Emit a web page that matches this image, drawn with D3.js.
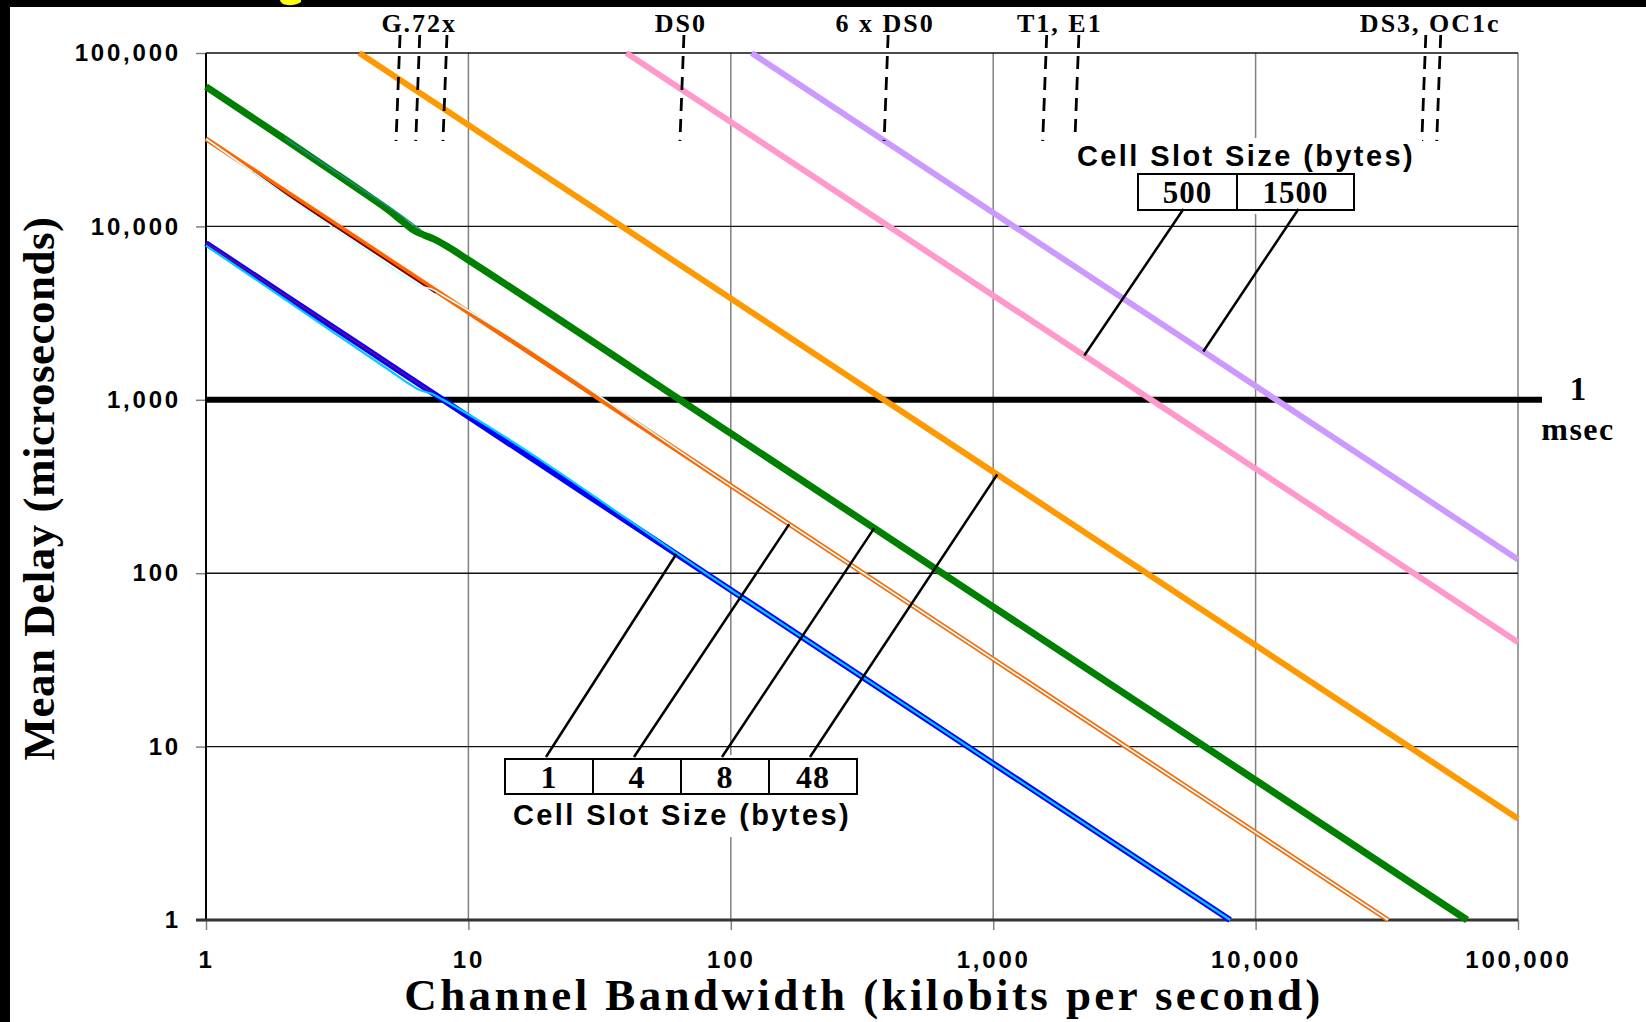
<!DOCTYPE html>
<html>
<head>
<meta charset="utf-8">
<script src="https://cdn.jsdelivr.net/npm/d3@7"></script>
<style>
  body { margin: 0; background: #fff; }
  svg { display: block; }
  .tick text { font-family: "Liberation Sans", Arial, sans-serif; font-weight: bold; font-size: 24px; letter-spacing: 2.8px; fill: #000; }
  .tick line { stroke: #808080; stroke-width: 1.5; }
  .serif { font-family: "Liberation Serif", "Times New Roman", serif; font-weight: bold; fill: #000; }
  .sans { font-family: "Liberation Sans", Arial, sans-serif; font-weight: bold; fill: #000; }
</style>
</head>
<body>
<div id="vis"></div>
<script>
// Frame
const FRAME_WIDTH = 1646;
const FRAME_HEIGHT = 1022;
const MARGINS = {left: 206, right: 128, top: 53, bottom: 102};
const VIS_WIDTH = FRAME_WIDTH - MARGINS.left - MARGINS.right;
const VIS_HEIGHT = FRAME_HEIGHT - MARGINS.top - MARGINS.bottom;

// tick values
const X_TICKS = [1, 10, 100, 1000, 10000, 100000];
const Y_TICKS = [1, 10, 100, 1000, 10000, 100000];

// cell slot size = 1 byte
const BLUE_BW = [1, 2, 4, 8, 100, 1000, 8000];
const BLUE_DELAY = [8000, 4000, 2000, 1000, 80, 8, 1];
const PURPLE_BW = [1, 2, 4, 8];
const PURPLE_DELAY = [8050, 4020, 2010, 1000];
const CYAN_BW = [1, 2, 3, 4, 5, 6, 6.6, 7.3, 8, 100, 1000, 8000];
const CYAN_DELAY = [7750, 3800, 2500, 1860, 1480, 1225, 1130, 1080, 1000, 80, 8, 1];

// cell slot size = 4 bytes
const ORANGE_BW = [1, 2, 4, 8, 100, 1000, 32000];
const ORANGE_DELAY = [32000, 16000, 8000, 4000, 320, 32, 1];
const MAROON_BW = [1.5, 2, 4, 6, 7.5];
const MAROON_DELAY = [20700, 15500, 7760, 5170, 4140];
const PALE_BW = [1, 1.4, 2, 4, 6, 6.6, 7.3, 8, 100, 1000, 32000];
const PALE_DELAY = [32000, 22300, 15200, 7450, 4900, 4520, 4330, 4000, 320, 32, 1];

// cell slot size = 8 bytes
const GREEN_BW = [1, 2, 3, 4, 5, 5.6, 6.2, 6.8, 7.4, 8.5, 10, 100, 1000, 10000, 64000];
const GREEN_DELAY = [64000, 31800, 21000, 15600, 12300, 10700, 9500, 8900, 8450, 7500, 6400, 640, 64, 6.4, 1];
const TEAL_BW = [2, 3, 4, 5, 6, 6.6];
const TEAL_DELAY = [32300, 21500, 16100, 12900, 10600, 9500];

// cell slot sizes 48, 500, 1500 bytes
const C48_BW = [3.84, 10, 100, 1000, 10000, 100000];
const C48_DELAY = [100000, 38400, 3840, 384, 38.4, 3.84];
const C500_BW = [40, 100, 1000, 10000, 100000];
const C500_DELAY = [100000, 40000, 4000, 400, 40];
const C1500_BW = [120, 1000, 10000, 100000];
const C1500_DELAY = [100000, 12000, 1200, 120];

// legends and leader targets
const SMALL_CELLS = ["1", "4", "8", "48"];
const SMALL_LEADER_BW = [62, 167, 352, 1036];
const SMALL_LEADER_DELAY = [129, 192, 182, 371];
const BIG_CELLS = ["500", "1500"];
const BIG_LEADER_BW = [2224, 6320];
const BIG_LEADER_DELAY = [1800, 1900];

// channel annotations along the top
const MARK_LABELS = ["G.72x", "DS0", "6 x DS0", "T1, E1", "DS3, OC1c"];
const MARK_BW = [[5.3, 6.3, 8], [64], [384], [1544, 2048], [43000, 49000]];

const MSEC_LIMIT = 1000;

// Create the frame
const FRAME = d3.select("#vis")
                .append("svg")
                  .attr("width", FRAME_WIDTH)
                  .attr("height", FRAME_HEIGHT);

FRAME.append("rect")
      .attr("width", FRAME_WIDTH)
      .attr("height", FRAME_HEIGHT)
      .attr("fill", "#fff");

// slide border (black band on top and left)
FRAME.append("rect").attr("x", 0).attr("y", 0).attr("width", FRAME_WIDTH).attr("height", 7).attr("fill", "#000");
FRAME.append("rect").attr("x", 0).attr("y", 0).attr("width", 10).attr("height", FRAME_HEIGHT).attr("fill", "#000");
// tail of a glyph of the slide title, cut off at the top
FRAME.append("path")
      .attr("d", "M280,0 C281,6 293,7 301,2 L301,0 Z")
      .attr("fill", "#ffff00");

// Scales
const X_SCALE = d3.scaleLog()
                  .domain([1, 100000])
                  .range([MARGINS.left, MARGINS.left + VIS_WIDTH]);
const Y_SCALE = d3.scaleLog()
                  .domain([1, 100000])
                  .range([MARGINS.top + VIS_HEIGHT, MARGINS.top]);

// gridlines
FRAME.append("g").selectAll("line")
      .data(X_TICKS.slice(1))
      .enter()
      .append("line")
        .attr("x1", d => X_SCALE(d)).attr("x2", d => X_SCALE(d))
        .attr("y1", Y_SCALE(100000)).attr("y2", Y_SCALE(1))
        .attr("stroke", "#808080")
        .attr("stroke-width", 1.5);

FRAME.append("g").selectAll("line")
      .data(Y_TICKS.slice(1))
      .enter()
      .append("line")
        .attr("x1", X_SCALE(1)).attr("x2", X_SCALE(100000))
        .attr("y1", d => Y_SCALE(d)).attr("y2", d => Y_SCALE(d))
        .attr("stroke", "#111")
        .attr("stroke-width", 1.4);

// axes
FRAME.append("g")
      .attr("transform", "translate(" + MARGINS.left + ",0)")
      .call(d3.axisLeft(Y_SCALE).tickValues(Y_TICKS).tickFormat(d3.format(",")).tickSize(10).tickPadding(15))
      .call(g => g.select(".domain").remove());

FRAME.append("g")
      .attr("transform", "translate(0," + (MARGINS.top + VIS_HEIGHT) + ")")
      .call(d3.axisBottom(X_SCALE).tickValues(X_TICKS).tickFormat(d3.format(",")).tickSize(10).tickPadding(21))
      .call(g => g.select(".domain").remove());

// left and bottom border
FRAME.append("line")
      .attr("x1", X_SCALE(1)).attr("x2", X_SCALE(1))
      .attr("y1", Y_SCALE(100000)).attr("y2", Y_SCALE(1))
      .attr("stroke", "#000").attr("stroke-width", 2);
FRAME.append("line")
      .attr("x1", X_SCALE(1) - 10).attr("x2", X_SCALE(100000))
      .attr("y1", Y_SCALE(1)).attr("y2", Y_SCALE(1))
      .attr("stroke", "#333").attr("stroke-width", 3);

// axis titles
FRAME.append("text")
      .attr("class", "serif")
      .attr("x", MARGINS.left + VIS_WIDTH / 2 + 2)
      .attr("y", 1010)
      .attr("text-anchor", "middle")
      .attr("font-size", 45)
      .attr("letter-spacing", 3.4)
      .text("Channel Bandwidth (kilobits per second)");

FRAME.append("text")
      .attr("class", "serif")
      .attr("transform", "translate(54," + (MARGINS.top + VIS_HEIGHT / 2 + 2) + ") rotate(-90)")
      .attr("text-anchor", "middle")
      .attr("font-size", 45)
      .attr("letter-spacing", 0.5)
      .text("Mean Delay (microseconds)");

// 1 msec line
FRAME.append("line")
      .attr("x1", X_SCALE(1) + 1).attr("x2", 1542)
      .attr("y1", Y_SCALE(MSEC_LIMIT)).attr("y2", Y_SCALE(MSEC_LIMIT))
      .attr("stroke", "#000")
      .attr("stroke-width", 6);
FRAME.append("text").attr("class", "serif").attr("x", 1578).attr("y", 400)
      .attr("text-anchor", "middle").attr("font-size", 33).text("1");
FRAME.append("text").attr("class", "serif").attr("x", 1578).attr("y", 440)
      .attr("text-anchor", "middle").attr("font-size", 32).attr("letter-spacing", 1.5).text("msec");

// data series
const SERIES = [
  {bw: C1500_BW, delay: C1500_DELAY, color: "#cc99ff", width: 6},
  {bw: C500_BW, delay: C500_DELAY, color: "#ff99cc", width: 6},
  {bw: C48_BW, delay: C48_DELAY, color: "#ff9900", width: 6},
  {bw: GREEN_BW, delay: GREEN_DELAY, color: "#008000", width: 7},
  {bw: TEAL_BW, delay: TEAL_DELAY, color: "#1a8a8a", width: 1.5},
  {bw: ORANGE_BW, delay: ORANGE_DELAY, color: "#ff6600", width: 5},
  {bw: MAROON_BW, delay: MAROON_DELAY, color: "#800000", width: 1.8},
  {bw: PALE_BW, delay: PALE_DELAY, color: "#ccffff", width: 1.7},
  {bw: BLUE_BW, delay: BLUE_DELAY, color: "#0000ff", width: 6},
  {bw: PURPLE_BW, delay: PURPLE_DELAY, color: "#800080", width: 1.5},
  {bw: CYAN_BW, delay: CYAN_DELAY, color: "#00ccff", width: 2.2}
];

const LINE = d3.line()
                .x(d => X_SCALE(d[0]))
                .y(d => Y_SCALE(d[1]))
                .curve(d3.curveMonotoneX);

FRAME.append("g").selectAll("path")
      .data(SERIES)
      .enter()
      .append("path")
        .attr("d", d => LINE(d.bw.map((b, i) => [b, d.delay[i]])))
        .attr("fill", "none")
        .attr("stroke", d => d.color)
        .attr("stroke-width", d => d.width)
        .attr("stroke-linejoin", "round");

// channel annotations: dashed markers and labels
MARK_LABELS.forEach((label, i) => {
  const xs = MARK_BW[i].map(b => X_SCALE(b));
  FRAME.append("text")
        .attr("class", "serif")
        .attr("x", d3.mean(xs) + 1)
        .attr("y", 32)
        .attr("text-anchor", "middle")
        .attr("font-size", 26)
        .attr("letter-spacing", 2)
        .text(label);
  xs.forEach(x => {
    FRAME.append("line")
          .attr("x1", x + 4).attr("y1", 35)
          .attr("x2", x).attr("y2", 141)
          .attr("stroke", "#000")
          .attr("stroke-width", 2.8)
          .attr("stroke-dasharray", "13,8");
  });
});

// lower legend: cell slot sizes 1, 4, 8, 48
const SMALL_BOX = {x: 505, y: 759, w: 88, h: 35};
FRAME.append("rect")
      .attr("x", SMALL_BOX.x - 5).attr("y", 755)
      .attr("width", SMALL_CELLS.length * SMALL_BOX.w + 10).attr("height", 82)
      .attr("fill", "#fff");
SMALL_CELLS.forEach((c, i) => {
  const cx = SMALL_BOX.x + SMALL_BOX.w * (i + 0.5);
  FRAME.append("rect")
        .attr("x", SMALL_BOX.x + SMALL_BOX.w * i).attr("y", SMALL_BOX.y)
        .attr("width", SMALL_BOX.w).attr("height", SMALL_BOX.h)
        .attr("fill", "#fff").attr("stroke", "#000").attr("stroke-width", 2);
  FRAME.append("text")
        .attr("class", "serif")
        .attr("x", cx).attr("y", SMALL_BOX.y + 29)
        .attr("text-anchor", "middle")
        .attr("font-size", 32)
        .attr("letter-spacing", 1)
        .text(c);
  FRAME.append("line")
        .attr("x1", cx - 3).attr("y1", SMALL_BOX.y - 2)
        .attr("x2", X_SCALE(SMALL_LEADER_BW[i])).attr("y2", Y_SCALE(SMALL_LEADER_DELAY[i]))
        .attr("stroke", "#000").attr("stroke-width", 2.5);
});
FRAME.append("text")
      .attr("class", "sans")
      .attr("x", SMALL_BOX.x + SMALL_CELLS.length * SMALL_BOX.w / 2 + 1)
      .attr("y", 825)
      .attr("text-anchor", "middle")
      .attr("font-size", 29)
      .attr("letter-spacing", 2.4)
      .text("Cell Slot Size (bytes)");

// upper legend: cell slot sizes 500, 1500
const BIG_BOX = {x: 1138, y: 174, widths: [99, 117], h: 36};
FRAME.append("rect")
      .attr("x", 1068).attr("y", 138)
      .attr("width", 354).attr("height", 76)
      .attr("fill", "#fff");
FRAME.append("text")
      .attr("class", "sans")
      .attr("x", 1246)
      .attr("y", 166)
      .attr("text-anchor", "middle")
      .attr("font-size", 29)
      .attr("letter-spacing", 2.4)
      .text("Cell Slot Size (bytes)");
let bx = BIG_BOX.x;
BIG_CELLS.forEach((c, i) => {
  const w = BIG_BOX.widths[i];
  FRAME.append("rect")
        .attr("x", bx).attr("y", BIG_BOX.y)
        .attr("width", w).attr("height", BIG_BOX.h)
        .attr("fill", "#fff").attr("stroke", "#000").attr("stroke-width", 2);
  FRAME.append("text")
        .attr("class", "serif")
        .attr("x", bx + w / 2).attr("y", BIG_BOX.y + 29)
        .attr("text-anchor", "middle")
        .attr("font-size", 31)
        .attr("letter-spacing", 1)
        .text(c);
  FRAME.append("line")
        .attr("x1", bx + w / 2 + (i === 0 ? -4 : 3)).attr("y1", BIG_BOX.y + BIG_BOX.h - 1)
        .attr("x2", X_SCALE(BIG_LEADER_BW[i])).attr("y2", Y_SCALE(BIG_LEADER_DELAY[i]))
        .attr("stroke", "#000").attr("stroke-width", 2.5);
  bx += w;
});
</script>
</body>
</html>
